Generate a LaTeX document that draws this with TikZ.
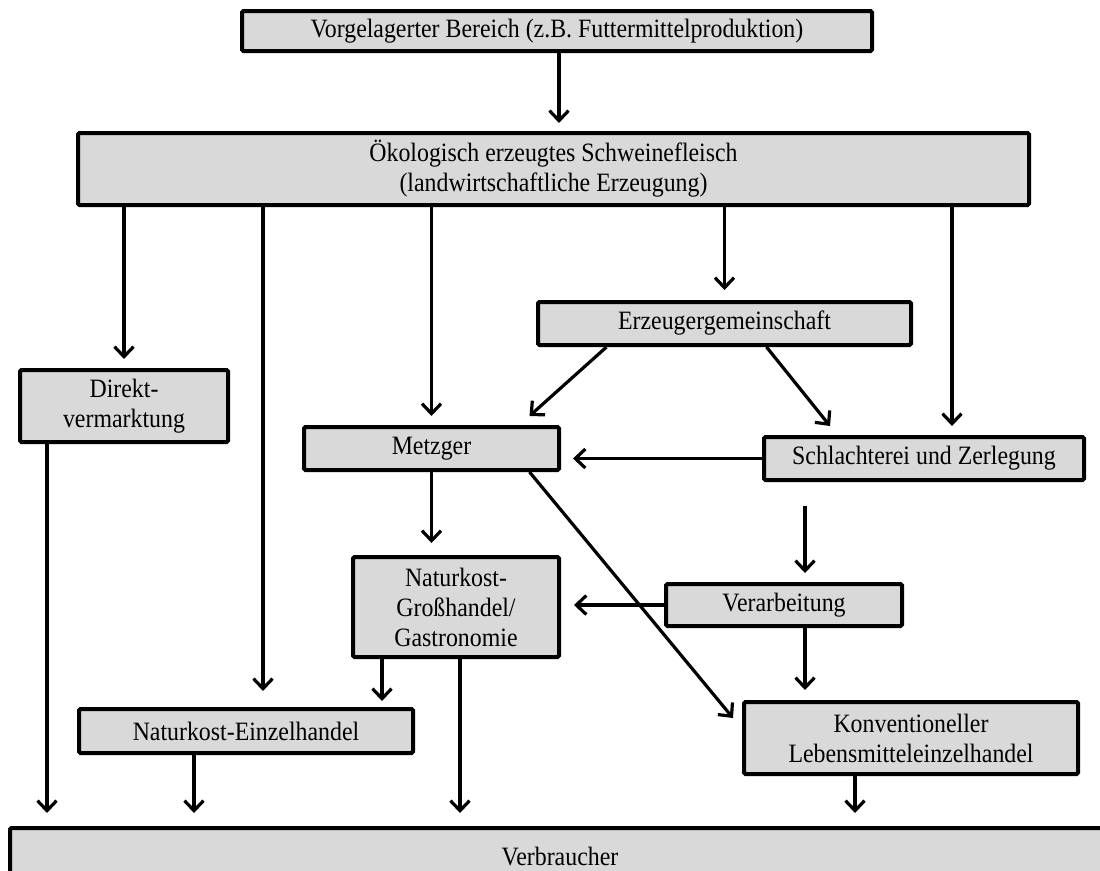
\documentclass[tikz,border=0pt]{standalone}
\usepackage{fontspec}
\setmainfont{Liberation Serif}[FakeStretch=0.9]
\usetikzlibrary{arrows.meta}
\definecolor{boxgray}{HTML}{D9D9D9}
\begin{document}
\begin{tikzpicture}[x=1pt,y=-1pt,
  box/.style={draw=black, line width=4pt, fill=boxgray, rounded corners=1.5pt,
    inner sep=0pt, align=center, font=\fontsize{26.5}{30}\selectfont},
  arr/.style={line width=3.2pt, -{Straight Barb[length=10pt,width=19pt]}},
]
\useasboundingbox (0,0) rectangle (1100,870);
\clip (0,0) rectangle (1100,870);

% stages of the supply chain
\node[box, minimum width=630pt, minimum height=40pt] (top) at (557,31)
  {Vorgelagerter Bereich (z.B. Futtermittelproduktion)};
\node[box, minimum width=951pt, minimum height=72pt] (big) at (553.5,169)
  {Ökologisch erzeugtes Schweinefleisch\\(landwirtschaftliche Erzeugung)};
\node[box, minimum width=208pt, minimum height=72pt] (dir) at (124,406)
  {Direkt-\\vermarktung};
\node[box, minimum width=373pt, minimum height=43pt] (erz) at (724.5,323.5)
  {Erzeugergemeinschaft};
\node[box, minimum width=255pt, minimum height=43pt] (metz) at (431.5,448.5)
  {Metzger};
\node[box, minimum width=320pt, minimum height=43pt] (schl) at (924,458.5)
  {Schlachterei und Zerlegung};
\node[box, minimum width=206pt, minimum height=100pt] (gross) at (456,607)
  {Naturkost-\\Großhandel/\\Gastronomie};
\node[box, minimum width=236pt, minimum height=42pt] (verarb) at (784,605)
  {Verarbeitung};
\node[box, minimum width=334pt, minimum height=44pt] (einzel) at (246,731)
  {Naturkost-Einzelhandel};
\node[box, minimum width=334pt, minimum height=72pt] (konv) at (911,738)
  {Konventioneller\\Lebensmitteleinzelhandel};
\node[box, minimum width=1100pt, minimum height=57pt] (verbr) at (560,856.5)
  {Verbraucher};

% free start of the flow into processing
\coordinate (vin) at ([xshift=21pt,yshift=76pt]verarb.north);

% flows
\draw[arr, shorten >=8pt] ([xshift=2pt]top.south) -- ([xshift=2pt]top.south |- big.north);
\draw[arr, shorten >=9pt] (dir.north |- big.south) -- (dir.north);
\draw[arr, shorten >=16pt] ([xshift=17pt]einzel.north |- big.south) -- ([xshift=17pt]einzel.north);
\draw[arr, shorten >=9pt] (metz.north |- big.south) -- (metz.north);
\draw[arr, shorten >=10pt] (erz.north |- big.south) -- (erz.north);
\draw[arr, shorten >=9pt] ([xshift=28pt]schl.north |- big.south) -- ([xshift=28pt]schl.north);
\draw[arr] ([xshift=-118pt]erz.south) -- ([xshift=98pt,yshift=9pt]metz.north);
\draw[arr] ([xshift=42pt]erz.south) -- ([xshift=-94pt,yshift=9pt]schl.north);
\draw[arr, shorten >=12pt] (schl.west) -- (schl.west -| metz.east);
\draw[arr, shorten >=12pt] (metz.south) -- (metz.south |- gross.north);
\draw[arr] ([xshift=98pt]metz.south) -- ([xshift=-9pt,yshift=20pt]konv.west);
\draw[arr, shorten >=9pt] (vin) -- ([xshift=21pt]verarb.north);
\draw[arr, shorten >=13pt] (verarb.west) -- (verarb.west -| gross.east);
\draw[arr, shorten >=10pt] ([xshift=21pt]verarb.south) -- ([xshift=21pt]verarb.south |- konv.north);
\draw[arr, shorten >=6pt] ([xshift=-74pt]gross.south) -- ([xshift=-74pt]gross.south |- einzel.north);
\draw[arr, shorten >=13pt] ([xshift=4pt]gross.south) -- ([xshift=4pt]gross.south |- verbr.north);
\draw[arr, shorten >=13pt] ([xshift=-77pt]dir.south) -- ([xshift=-77pt]dir.south |- verbr.north);
\draw[arr, shorten >=13pt] ([xshift=-52pt]einzel.south) -- ([xshift=-52pt]einzel.south |- verbr.north);
\draw[arr, shorten >=13pt] ([xshift=-56pt]konv.south) -- ([xshift=-56pt]konv.south |- verbr.north);
\end{tikzpicture}
\end{document}
